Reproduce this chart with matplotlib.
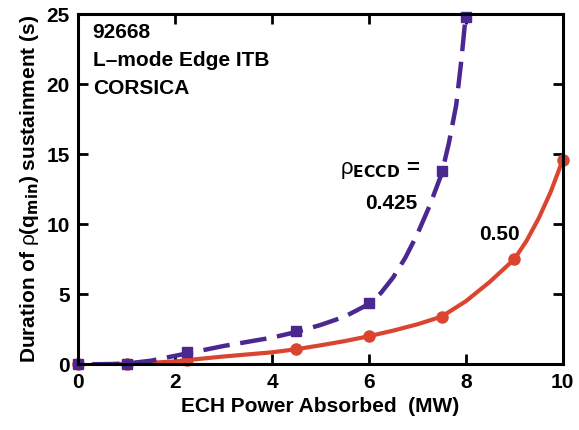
import matplotlib
matplotlib.use('Agg')
import matplotlib.pyplot as plt
from matplotlib import rcParams, font_manager

names = set(f.name for f in font_manager.fontManager.ttflist)
main_font = 'Liberation Sans Narrow' if 'Liberation Sans Narrow' in names else 'Liberation Sans'

rcParams['font.family'] = [main_font, 'DejaVu Sans']
rcParams['mathtext.fontset'] = 'custom'
rcParams['mathtext.rm'] = main_font + ':bold'
rcParams['mathtext.bf'] = 'DejaVu Sans:bold'
rcParams['mathtext.it'] = main_font + ':bold'
rcParams['mathtext.sf'] = 'Liberation Sans'

purple = '#4a2890'
red = '#db4530'

# simulation points, rho_ECCD = 0.425
p425_x = [0, 1, 2.25, 4.5, 6, 7.5, 8]
p425_y = [0, 0.05, 0.9, 2.35, 4.4, 13.8, 24.8]
# fitted curve
c425_x = [0.3, 0.7, 1, 1.5, 2, 2.5, 3, 3.5, 4, 4.5, 5, 5.5, 6, 6.25, 6.5, 6.75, 7, 7.25, 7.5, 7.65, 7.8, 7.9, 8]
c425_y = [0, 0.01, 0.05, 0.25, 0.6, 0.95, 1.3, 1.6, 1.9, 2.3, 2.8, 3.4, 4.3, 5.1, 6.2, 7.6, 9.3, 11.3, 13.6, 15.8, 18.5, 21.5, 25]

# simulation points, rho_ECCD = 0.50
p50_x = [0, 1, 2.25, 4.5, 6, 7.5, 9, 10]
p50_y = [0, 0.02, 0.3, 1.07, 2.05, 3.4, 7.5, 14.6]
c50_x = [0.3, 1, 1.5, 2, 2.5, 3, 3.5, 4, 4.5, 5, 5.5, 6, 6.5, 7, 7.5, 8, 8.5, 9, 9.25, 9.5, 9.75, 10]
c50_y = [0, 0.03, 0.1, 0.2, 0.38, 0.55, 0.7, 0.85, 1.07, 1.35, 1.65, 2.0, 2.4, 2.85, 3.4, 4.5, 5.9, 7.5, 8.8, 10.4, 12.3, 14.6]

fig = plt.figure(figsize=(5.79, 4.30), dpi=100)
ax = fig.add_axes([0.135, 0.153, 0.837, 0.814])

ax.plot(c50_x, c50_y, color=red, lw=3, solid_capstyle='round')
ax.plot(p50_x, p50_y, 'o', color=red, ms=8, clip_on=False)
ax.plot(c425_x, c425_y, color=purple, lw=3.2, dashes=(6, 2.4))
ax.plot(p425_x, p425_y, 's', color=purple, ms=7.5, clip_on=False)

ax.set_xlim(0, 10)
ax.set_ylim(0, 25)
ax.set_xticks([0, 2, 4, 6, 8, 10])
ax.set_yticks([0, 5, 10, 15, 20, 25])
ax.tick_params(axis='both', direction='in', length=7, width=2, labelsize=15,
               top=True, right=True, pad=6)
for lab in ax.get_xticklabels() + ax.get_yticklabels():
    lab.set_fontweight('bold')
for s in ax.spines.values():
    s.set_linewidth(2.2)

ax.set_xlabel('ECH Power Absorbed  (MW)', fontsize=15, fontweight='bold', labelpad=4)
ax.set_ylabel(r'Duration of $\mathsf{\rho}$(q$_{\mathbf{min}}$) sustainment (s)',
              fontsize=15, fontweight='bold', labelpad=4)

ax.text(0.3, 24.4, '92668\nL\u2013mode Edge ITB\nCORSICA', fontsize=15, fontweight='bold',
        va='top', ha='left', linespacing=1.6)
ax.text(7.05, 13.8, r'$\mathsf{\rho}_{\mathbf{ECCD}}$ =', fontsize=16, fontweight='bold',
        ha='right', va='center')
ax.text(7.0, 11.5, '0.425', fontsize=15, fontweight='bold', ha='right', va='center')
ax.text(8.7, 9.3, '0.50', fontsize=15, fontweight='bold', ha='center', va='center')

fig.savefig('out.png', dpi=100)
